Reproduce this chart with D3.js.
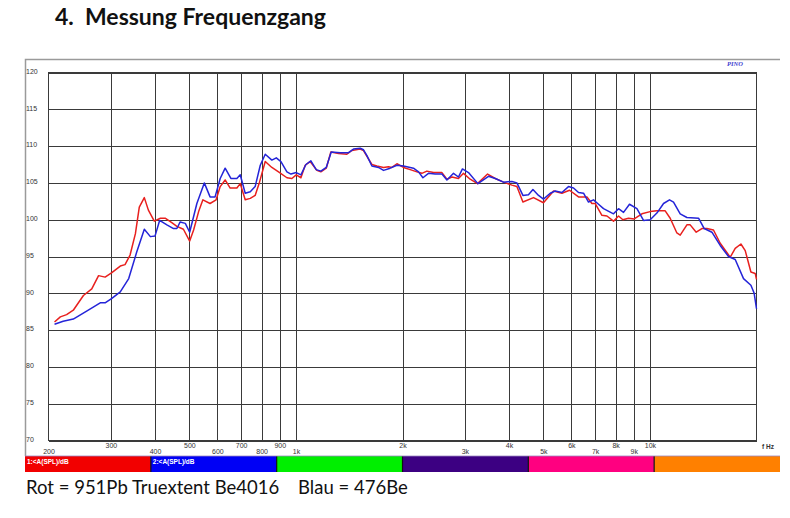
<!DOCTYPE html>
<html>
<head>
<meta charset="utf-8">
<script src="https://cdn.jsdelivr.net/npm/d3@7"></script>
<style>
  body { margin: 0; background: #fff; }
  svg { display: block; }
</style>
</head>
<body>
<svg id="chart" width="790" height="518"></svg>
<script>
// frequency response, [Hz, dB]
var redData = [
  [208,86.1],[216,86.8],[225,87.1],[235,87.7],[251,89.7],[265,90.6],[277,92.4],[289,92.2],[302,92.8],
  [319,93.7],[329,93.9],[340,95.2],[352,98.1],[361,101.7],[373,103.0],[383,101.3],[398,99.8],[414,100.2],
  [427,100.2],[446,99.6],[461,99.1],[481,98.7],[501,97.1],[514,98.6],[531,101.1],[546,102.7],[572,102.2],
  [595,102.7],[611,104.5],[631,105.4],[652,104.3],[681,104.3],[696,104.9],[719,102.7],[743,102.9],[767,103.3],
  [789,105.1],[819,107.9],[855,107.1],[893,106.5],[943,105.7],[974,105.6],[1002,106.1],[1033,105.7],[1062,107.4],
  [1097,107.9],[1146,106.7],[1176,106.5],[1218,107.0],[1255,109.2],[1319,109.0],[1393,108.9],[1439,109.4],
  [1519,109.6],[1552,109.4],[1587,108.6],[1639,107.5],[1693,107.3],[1768,107.1],[1826,107.2],[1867,107.1],
  [1929,107.6],[2013,107.1],[2103,106.8],[2197,106.5],[2268,106.3],[2344,106.6],[2448,106.4],[2585,106.4],
  [2670,105.5],[2758,105.8],[2878,105.6],[2974,106.3],[3106,105.5],[3258,104.9],[3478,106.2],[3657,105.6],
  [3858,105.1],[4074,104.7],[4209,104.5],[4377,102.4],[4690,103.0],[5004,102.3],[5342,103.9],[5641,103.6],
  [5928,104.0],[6284,103.1],[6638,103.1],[6856,102.2],[7007,102.2],[7317,100.6],[7560,100.5],[7891,99.8],
  [8152,100.5],[8388,100.0],[8699,100.2],[9028,100.1],[9492,100.8],[10016,101.1],[10462,101.2],[11044,101.2],
  [11408,100.2],[11916,98.2],[12176,97.9],[12718,99.3],[12993,99.3],[13512,98.3],[14022,98.8],[14484,98.8],
  [15118,98.6],[15794,96.8],[16858,94.9],[17414,96.1],[18072,96.7],[18585,95.8],[19286,92.9],[19831,92.7],
  [20000,91.9]
];

var blueData = [
  [208,85.8],[220,86.2],[235,86.5],[257,87.6],[280,88.7],[289,88.7],[302,89.3],[319,90.2],[337,92.0],
  [355,95.6],[373,98.7],[388,97.7],[400,97.8],[412,99.9],[432,99.3],[451,98.8],[461,98.8],[471,99.7],
  [487,99.5],[501,98.3],[525,102.2],[551,105.0],[572,103.1],[591,103.1],[611,105.6],[631,107.0],[655,105.6],
  [681,105.6],[696,106.1],[719,103.6],[743,103.8],[767,104.5],[793,107.4],[819,108.9],[855,108.1],[880,108.4],
  [907,107.9],[943,106.5],[968,106.2],[1002,106.4],[1033,106.1],[1067,107.5],[1102,108.0],[1141,106.8],
  [1176,106.6],[1218,107.1],[1258,109.2],[1334,109.1],[1408,109.1],[1454,109.6],[1519,109.7],[1552,109.5],
  [1587,108.7],[1639,107.3],[1711,107.1],[1768,106.7],[1846,107.0],[1929,107.4],[2013,107.3],[2148,107.0],
  [2220,106.5],[2284,105.7],[2368,106.3],[2474,106.2],[2585,106.2],[2670,105.4],[2787,106.3],[2878,105.8],
  [2954,106.9],[3072,106.4],[3266,104.9],[3499,105.9],[3657,105.6],[3858,105.1],[4074,105.2],[4209,105.0],
  [4377,103.3],[4538,103.4],[4672,104.1],[4846,103.3],[5004,102.8],[5228,103.6],[5400,103.9],[5641,103.7],
  [5888,104.5],[6084,104.3],[6284,103.7],[6493,103.6],[6706,102.4],[6929,102.7],[7158,102.1],[7394,101.5],
  [7891,100.8],[8152,101.5],[8422,101.0],[8755,102.1],[9188,101.5],[9592,99.9],[10016,100.0],[10462,100.9],
  [10926,102.2],[11358,102.7],[11658,102.4],[12176,100.8],[12718,100.3],[13717,100.2],[14236,98.8],
  [14965,98.3],[15794,96.5],[16672,95.0],[17414,94.6],[18380,92.0],[19286,91.1],[19700,90.0],[20000,87.9]
];

var yTicks = [70, 75, 80, 85, 90, 95, 100, 105, 110, 115, 120];
var xGrid = [300, 400, 500, 600, 700, 800, 900, 1000, 2000, 3000, 4000, 5000, 6000, 7000, 8000, 9000, 10000];
var xLabelsTop = [300, 500, 700, 900, 2000, 4000, 6000, 8000, 10000];
var xLabelsLow = [200, 400, 600, 800, 1000, 3000, 5000, 7000, 9000];

var barColors = ["#f20000", "#0000f5", "#00ef00", "#3c0082", "#ff0080", "#ff8000"];
var barLabels = ["1:<A(SPL)/dB", "2:<A(SPL)/dB", "", "", "", ""];

var titleText = "4.  Messung Frequenzgang";
var captionText = "Rot = 951Pb Truextent Be4016    Blau = 476Be";

var svg = d3.select("#chart");

var plot = {left: 48.5, right: 756.5, top: 72.5, bottom: 440.5};

var x = d3.scaleLog().domain([200, 20000]).range([plot.left, plot.right]);
var y = d3.scaleLinear().domain([70, 120]).range([plot.bottom, plot.top]);

var fmtHz = function(f) { return f >= 1000 ? (f / 1000) + "k" : String(f); };

// title
svg.append("text")
    .attr("x", 55)
    .attr("y", 25)
    .style("font-family", "Lato, 'Open Sans', sans-serif")
    .style("font-weight", "bold")
    .style("font-size", "23px")
    .style("fill", "#111")
    .attr("xml:space", "preserve")
    .text(titleText);

// outer frame (top + left only)
svg.append("path")
    .attr("d", "M25.5,456 V59.5 H780")
    .attr("fill", "none")
    .attr("stroke", "#9a9a9a")
    .attr("stroke-width", 1.5);

svg.append("text")
    .attr("x", 727)
    .attr("y", 66)
    .style("font-family", "'Liberation Serif', serif")
    .style("font-style", "italic")
    .style("font-weight", "bold")
    .style("font-size", "6.5px")
    .style("fill", "#4040d0")
    .text("PINO");

// grid
var gridY = svg.append("g")
    .attr("transform", "translate(" + plot.left + ",0)")
    .call(d3.axisLeft(y).tickValues(yTicks).tickSize(-(plot.right - plot.left)).tickFormat(""));
var gridX = svg.append("g")
    .attr("transform", "translate(0," + plot.bottom + ")")
    .call(d3.axisBottom(x).tickValues(xGrid).tickSize(-(plot.bottom - plot.top)).tickFormat(""));
[gridY, gridX].forEach(function(g) {
  g.select(".domain").remove();
  g.selectAll("line").attr("stroke", "#3a3a3a").attr("stroke-width", 1).attr("shape-rendering", "crispEdges");
});

svg.append("rect")
    .attr("x", plot.left)
    .attr("y", plot.top)
    .attr("width", plot.right - plot.left)
    .attr("height", plot.bottom - plot.top)
    .attr("fill", "none")
    .attr("stroke", "#3a3a3a")
    .attr("shape-rendering", "crispEdges");

// y labels (left aligned)
var yAxis = svg.append("g")
    .attr("transform", "translate(26,0)")
    .call(d3.axisLeft(y).tickValues(yTicks).tickSize(0));
yAxis.select(".domain").remove();
yAxis.selectAll("text")
    .attr("x", 0)
    .attr("dy", "0.1em")
    .attr("text-anchor", "start")
    .style("font-family", "'Liberation Sans', Arial, sans-serif")
    .style("font-size", "7px")
    .style("fill", "#333");

// x labels, two staggered rows
var xTop = svg.append("g")
    .attr("transform", "translate(0,443)")
    .call(d3.axisBottom(x).tickValues(xLabelsTop).tickSize(0).tickFormat(fmtHz));
var xLow = svg.append("g")
    .attr("transform", "translate(0,449.5)")
    .call(d3.axisBottom(x).tickValues(xLabelsLow).tickSize(0).tickFormat(fmtHz));
[xTop, xLow].forEach(function(g) {
  g.select(".domain").remove();
  g.selectAll("text")
      .attr("y", 0)
      .attr("dy", "0.71em")
      .style("font-family", "'Liberation Sans', Arial, sans-serif")
      .style("font-size", "7px")
      .style("fill", "#333");
});

svg.append("text")
    .attr("x", 762)
    .attr("y", 448.5)
    .style("font-family", "'Liberation Sans', Arial, sans-serif")
    .style("font-size", "6.5px")
    .style("font-weight", "bold")
    .style("fill", "#333")
    .text("f Hz");

// curves
var line = d3.line()
    .x(function(d) { return x(d[0]); })
    .y(function(d) { return y(d[1]); });

svg.append("path")
    .datum(redData)
    .attr("d", line)
    .attr("fill", "none")
    .attr("stroke", "#e8201e")
    .attr("stroke-width", 1.5)
    .attr("stroke-linejoin", "round");

svg.append("path")
    .datum(blueData)
    .attr("d", line)
    .attr("fill", "none")
    .attr("stroke", "#2424d8")
    .attr("stroke-width", 1.5)
    .attr("stroke-linejoin", "round");

// colour bar below the plot
var band = d3.scaleBand().domain(d3.range(barColors.length)).range([25, 780]);
var bar = svg.append("g");
bar.selectAll("rect")
    .data(barColors)
    .enter().append("rect")
      .attr("x", function(d, i) { return band(i); })
      .attr("y", 456)
      .attr("width", band.bandwidth())
      .attr("height", 16)
      .attr("fill", function(d) { return d; });
bar.selectAll("line")
    .data(d3.range(1, barColors.length))
    .enter().append("line")
      .attr("x1", function(i) { return band(i); })
      .attr("x2", function(i) { return band(i); })
      .attr("y1", 456)
      .attr("y2", 472)
      .attr("stroke", "#111")
      .attr("stroke-width", 1.2);
bar.append("line")
    .attr("x1", 25).attr("x2", 780)
    .attr("y1", 456).attr("y2", 456)
    .attr("stroke", "#9a86c0")
    .attr("stroke-width", 0.8);
bar.selectAll("text")
    .data(barLabels)
    .enter().append("text")
      .attr("x", function(d, i) { return band(i) + 2; })
      .attr("y", 463.5)
      .style("font-family", "'Liberation Sans', Arial, sans-serif")
      .style("font-size", "6.5px")
      .style("font-weight", "bold")
      .style("fill", "#fff")
      .text(function(d) { return d; });

// caption
svg.append("text")
    .attr("x", 26)
    .attr("y", 494)
    .style("font-family", "Lato, 'Open Sans', sans-serif")
    .style("font-size", "18.5px")
    .style("fill", "#111")
    .attr("xml:space", "preserve")
    .text(captionText);
</script>
</body>
</html>
